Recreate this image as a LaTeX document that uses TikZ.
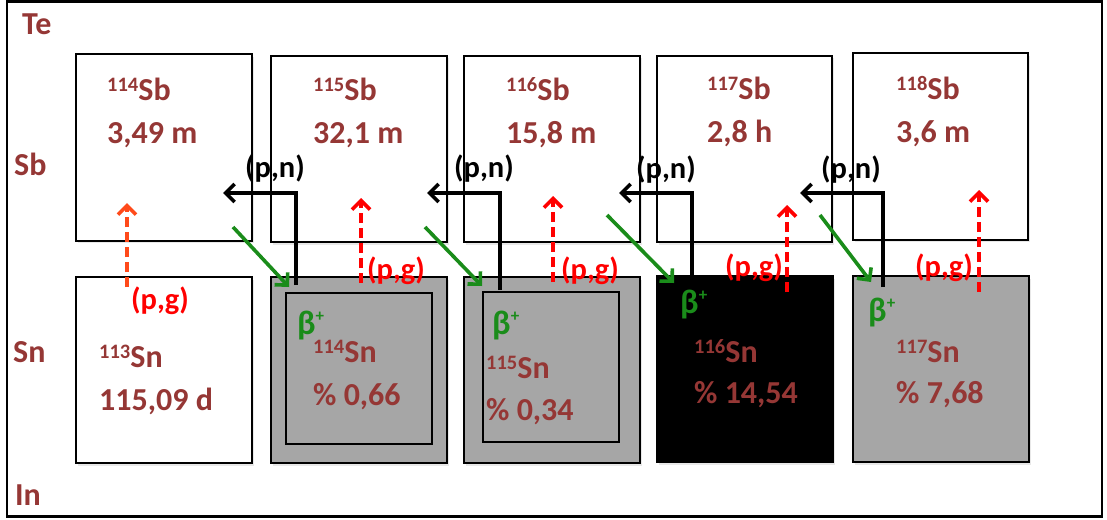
\documentclass[tikz,border=0pt]{standalone}
\usepackage{fontspec}
\setmainfont{Carlito}
\usetikzlibrary{arrows.meta,shadows}
\definecolor{dred}{HTML}{953735}
\definecolor{pgred}{HTML}{FF0000}
\definecolor{pgorange}{HTML}{FF4A1A}
\definecolor{bgreen}{HTML}{1A8C1A}
\definecolor{boxgray}{HTML}{A6A6A6}
\newcommand{\isolab}[2]{{\fontsize{20.5}{20.5}\selectfont\raisebox{8.5pt}{#1}}#2}
\newcommand{\betap}{β{\fontsize{17}{17}\selectfont\raisebox{13pt}{+}}}
\begin{document}
\begin{tikzpicture}[x=1pt,y=-1pt,
  nucbox/.style={draw=black,line width=2pt,minimum width=176pt,minimum height=186pt,inner sep=0pt,
    drop shadow={shadow xshift=2pt,shadow yshift=-2.5pt,opacity=0.18}},
  innerbox/.style={draw=black,line width=2pt,inner sep=0pt,fill=boxgray},
  lbl/.style={anchor=base west,inner sep=0pt,text=dred,font=\bfseries\fontsize{32}{32}\selectfont},
  pnlbl/.style={anchor=base west,inner sep=0pt,text=black,font=\bfseries\fontsize{30.5}{30.5}\selectfont},
  pglbl/.style={anchor=base west,inner sep=0pt,text=pgred,font=\bfseries\fontsize{30.5}{30.5}\selectfont},
  betalbl/.style={anchor=base west,inner sep=0pt,text=bgreen,font=\bfseries\fontsize{34}{34}\selectfont},
  pnarrow/.style={draw=black,line width=3.6pt,-{Straight Barb[length=9pt,width=18pt]}},
  betaarrow/.style={draw=bgreen,line width=3.6pt,-{Straight Barb[length=9pt,width=18pt]}},
  pgarrow/.style={draw=pgred,line width=3.6pt,dash pattern=on 10pt off 5pt,-{Straight Barb[length=9pt,width=18pt]}},
]
\useasboundingbox (0,0) rectangle (1107,519);
\node[draw=black,line width=2.2pt,minimum width=1095pt,minimum height=515pt,inner sep=0pt] (frame) at (554.5,259) {};

% Sb row
\node[nucbox,fill=white] (sb114) at (164,147.5) {};
\node[nucbox,fill=white] (sb115) at (359,149) {};
\node[nucbox,fill=white] (sb116) at (552,149) {};
\node[nucbox,fill=white,minimum width=175pt] (sb117) at (744.5,149) {};
\node[nucbox,fill=white,minimum width=175pt] (sb118) at (940.5,146.5) {};

% Sn row
\node[nucbox,fill=white] (sn113) at (164,370) {};
\node[nucbox,fill=boxgray] (sn114) at (359,370) {};
\node[innerbox,minimum width=146pt,minimum height=151pt] (sn114i) at (359,368.5) {};
\node[nucbox,fill=boxgray] (sn115) at (552,370) {};
\node[innerbox,minimum width=136pt,minimum height=150pt] (sn115i) at (551,367) {};
\node[nucbox,fill=black] (sn116) at (745,369) {};
\node[nucbox,fill=boxgray] (sn117) at (941,369) {};

% row labels
\node[lbl] (te) at (22,35) {Te};
\node[lbl] (sbl) at (14,175) {Sb};
\node[lbl] (snl) at (13,362) {Sn};
\node[lbl] (inl) at (15,505) {In};

% Sb texts
\node[lbl] (t114a) at (107,100) {\isolab{114}{Sb}};
\node[lbl] (t114b) at (107,143) {3,49 m};
\node[lbl] (t115a) at (313,100) {\isolab{115}{Sb}};
\node[lbl] (t115b) at (313,143) {32,1 m};
\node[lbl] (t116a) at (506,100) {\isolab{116}{Sb}};
\node[lbl] (t116b) at (506,143) {15,8 m};
\node[lbl] (t117a) at (707,99) {\isolab{117}{Sb}};
\node[lbl] (t117b) at (707,142) {2,8 h};
\node[lbl] (t118a) at (896,99) {\isolab{118}{Sb}};
\node[lbl] (t118b) at (896,142) {3,6 m};

% Sn texts
\node[lbl] (s113a) at (99,367) {\isolab{113}{Sn}};
\node[lbl] (s113b) at (99,410) {115,09 d};
\node[lbl] (s114a) at (313,362) {\isolab{114}{Sn}};
\node[lbl] (s114b) at (313,405) {\% 0,66};
\node[lbl] (s115a) at (486,378) {\isolab{115}{Sn}};
\node[lbl] (s115b) at (486,420) {\% 0,34};
\node[lbl] (s116a) at (694,362) {\isolab{116}{Sn}};
\node[lbl] (s116b) at (694,403) {\% 14,54};
\node[lbl] (s117a) at (896,362) {\isolab{117}{Sn}};
\node[lbl] (s117b) at (896,403) {\% 7,68};

% coordinates for arrows
\coordinate (pn1s) at (296,285); \coordinate (pn1c) at (296,193); \coordinate (pn1e) at (223,193);
\coordinate (pn2s) at (500,290); \coordinate (pn2c) at (500,193); \coordinate (pn2e) at (427,193);
\coordinate (pn3s) at (692,276); \coordinate (pn3c) at (692,193); \coordinate (pn3e) at (619,193);
\coordinate (pn4s) at (883,287); \coordinate (pn4c) at (883,193); \coordinate (pn4e) at (800,193);

\coordinate (b1s) at (233,227); \coordinate (b1e) at (289,287);
\coordinate (b2s) at (425,227); \coordinate (b2e) at (482,286);
\coordinate (b3s) at (607,215); \coordinate (b3e) at (674,283);
\coordinate (b4s) at (820,215); \coordinate (b4e) at (871,282);

\coordinate (g1s) at (127,287); \coordinate (g1e) at (127,203);
\coordinate (g2s) at (361,283); \coordinate (g2e) at (361,198);
\coordinate (g3s) at (553,282); \coordinate (g3e) at (553,196);
\coordinate (g4s) at (787,292); \coordinate (g4e) at (787,205);
\coordinate (g5s) at (979,292); \coordinate (g5e) at (979,190);

% (p,n) arrows
\draw[pnarrow] (pn1s) -- (pn1c) -- (pn1e);
\draw[pnarrow] (pn2s) -- (pn2c) -- (pn2e);
\draw[pnarrow] (pn3s) -- (pn3c) -- (pn3e);
\draw[pnarrow] (pn4s) -- (pn4c) -- (pn4e);

% beta arrows
\draw[betaarrow] (b1s) -- (b1e);
\draw[betaarrow] (b2s) -- (b2e);
\draw[betaarrow] (b3s) -- (b3e);
\draw[betaarrow] (b4s) -- (b4e);

% (p,g) arrows
\draw[pgarrow,draw=pgorange] (g1s) -- (g1e);
\draw[pgarrow] (g2s) -- (g2e);
\draw[pgarrow] (g3s) -- (g3e);
\draw[pgarrow] (g4s) -- (g4e);
\draw[pgarrow] (g5s) -- (g5e);

% reaction labels
\node[pnlbl] (pn1) at (245,177) {(p,n)};
\node[pnlbl] (pn2) at (454,177) {(p,n)};
\node[pnlbl] (pn3) at (636,178) {(p,n)};
\node[pnlbl] (pn4) at (821,178) {(p,n)};

\node[pglbl] (pg1) at (131,309) {(p,g)};
\node[pglbl] (pg2) at (367,279) {(p,g)};
\node[pglbl] (pg3) at (561,279) {(p,g)};
\node[pglbl] (pg4) at (725,276) {(p,g)};
\node[pglbl] (pg5) at (915,276) {(p,g)};

\node[betalbl] (be1) at (297,334) {\betap};
\node[betalbl] (be2) at (492,334) {\betap};
\node[betalbl] (be3) at (680,313) {\betap};
\node[betalbl] (be4) at (868,321) {\betap};
\end{tikzpicture}
\end{document}
